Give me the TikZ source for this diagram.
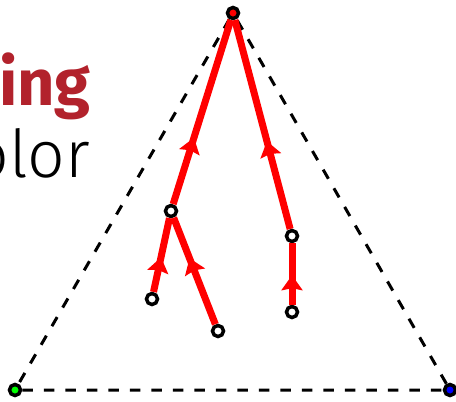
\documentclass[tikz,border=0pt]{standalone}
\usepackage{fontspec}
\setsansfont{Fira Sans}
\newfontfamily\lightsans{Fira Sans Light}
\usetikzlibrary{arrows.meta,decorations.markings}
\definecolor{titlered}{RGB}{178,34,44}
\tikzset{
  vtx/.style={circle, draw=black, fill=#1, line width=3.5pt,
              minimum size=11pt, inner sep=0pt},
  vtx/.default=white,
  side/.style={line width=3pt, dash pattern=on 10.5pt off 11pt},
  flow/.style={draw=red, line width=7pt, postaction={decorate},
               decoration={markings,
                 mark=at position #1 with {\arrow[red]{Stealth[length=15pt,width=21pt,inset=2pt]}}}},
  flow/.default=0.5,
  word/.style={anchor=base east, inner sep=0pt},
}

\begin{document}
\begin{tikzpicture}[x=1pt,y=-1pt]
  \useasboundingbox (0,0) rectangle (456,402);
  \clip (0,0) rectangle (456,402);
  % slide text, cut at the left
  \node[word, font=\sffamily\bfseries\fontsize{65}{72}\selectfont, text=titlered] (title) at (91,105) {ing};
  \node[word, font=\lightsans\fontsize{66}{72}\selectfont] (body) at (90,177) {olor};
  % corners
  \node[vtx=red]   (root)  at (233,13) {};
  \node[vtx=green] (left)  at (15,390) {};
  \node[vtx=blue]  (right) at (450,390) {};
  \draw[side] (root) -- (left) -- (right) -- (root);
  % tree
  \node[vtx] (a) at (171,211) {};
  \node[vtx] (b) at (292,236) {};
  \node[vtx] (c) at (152,299) {};
  \node[vtx] (d) at (218,331) {};
  \node[vtx] (e) at (292,312) {};
  \draw[flow=0.36] (a) -- (root);
  \draw[flow=0.42] (b) -- (root);
  \draw[flow=0.47] (c) -- (a);
  \draw[flow=0.62] (d) -- (a);
  \draw[flow=0.48] (e) -- (b);
\end{tikzpicture}
\end{document}
